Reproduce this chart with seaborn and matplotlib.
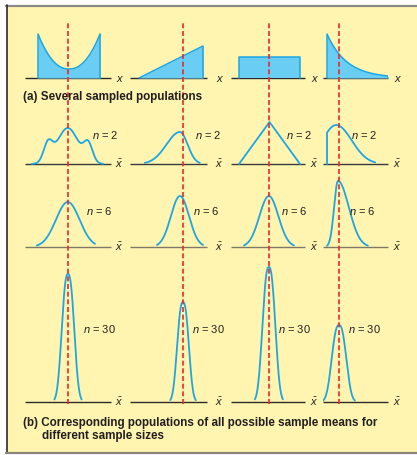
import numpy as np
import matplotlib
matplotlib.use("Agg")
import matplotlib.pyplot as plt
from matplotlib.patches import Rectangle
from matplotlib.lines import Line2D
import seaborn as sns

sns.set_theme(style="white")
plt.rcParams["font.family"] = ["Liberation Sans", "DejaVu Sans"]
plt.rcParams["mathtext.fontset"] = "custom"
plt.rcParams["mathtext.it"] = "Liberation Sans:italic"
plt.rcParams["mathtext.rm"] = "Liberation Sans"

# ---- data -------------------------------------------------------------
# Each population lives on the support [0, 1]; the dashed line marks its mean.
pop_means = [0.484, 0.6875, 0.49, 0.197]

# (a) sampled populations
u_shape_edge, u_shape_floor, u_shape_power = 44, 9, 2.2
rising_top = 32
uniform_height = 21
exp_start, exp_scale = 44, 0.325

# (b) sampling distributions of the mean, described as bumps:
# (centre, height, left width, right width, power)
n_labels = ["n = 2", "n = 6", "n = 30"]
n2_bumps = [
    [(0.48, 36, 0.24, 0.24, 2), (0.16, 18, 0.10, 0.10, 2), (0.81, 18, 0.10, 0.10, 2)],
    [(0.64, 32, 0.30, 0.17, 2)],
    None,
    [(0.15, 39, 0.32, 0.36, 2)],
]
n2_ranges = [(-0.10, 1.05), (0.09, 0.95), (0.0, 1.0), (0.0, 0.79)]
n2_triangle_x = [0.0, 0.5, 1.0]
n2_triangle_h = [0, 42, 0]

n6_bumps = [
    [(0.48, 45, 0.27, 0.27, 2)],
    [(0.64, 51, 0.20, 0.20, 2)],
    [(0.49, 51, 0.22, 0.22, 2)],
    [(0.18, 66, 0.09, 0.25, 2)],
]
n6_ranges = [(-0.02, 0.92), (0.28, 1.0), (0.08, 0.90), (0.0, 0.67)]

# n = 30: near-normal peaks centred on the population mean
n30_heights = [128, 100, 135, 77]
n30_widths = [0.127, 0.115, 0.133, 0.15]
n30_half_spans = [0.22, 0.20, 0.23, 0.26]
n30_power = 2.5

# ---- layout (figure pixels, measured from the top-left) ----------------
W, H = 417, 456
col_left = [25, 130, 231, 323]
col_right = [111, 207, 305, 388]
support_start = [38, 139, 239, 327]
support_width = [62, 64, 61, 61]
axes_top, axes_bottom = 24, 405
row_base_px = [79, 165, 248, 403]
baselines = [axes_bottom - p for p in row_base_px]
axis_colors = ["#2b2b2b", "#3a3a3a", "#7d7a6a", "#2b2b2b"]
axis_label_x = [119, 219, 314, 397]

label_pos = [
    [(105, 135), (208, 135), (299, 135), (364, 135)],
    [(99, 211), (206, 211), (294, 211), (362, 211)],
    [(99, 329), (208, 329), (294, 329), (364, 329)],
]

LINE = "#1ea6e3"
FILL = "#69cdf4"
RED = "#e82a2e"
TEXT = "#231f20"
BG = "#fff5b0"


def fx(px):
    return px / W


def fy(py):
    return 1 - py / H


def bump_curve(bumps, lo, hi):
    u = np.linspace(lo, hi, 300)
    y = np.zeros_like(u)
    for c, h, aL, aR, p in bumps:
        a = np.where(u < c, aL, aR)
        y += h * np.exp(-np.abs((u - c) / a) ** p)
    return u, y


fig = plt.figure(figsize=(W / 100, H / 100), dpi=100)
fig.patch.set_facecolor("white")

# yellow panel and its border
fig.add_artist(Rectangle((fx(7), fy(453)), fx(W) - fx(7), fy(7) - fy(453),
                         transform=fig.transFigure, facecolor=BG, edgecolor="none", zorder=0))
fig.add_artist(Line2D([fx(6), fx(W)], [fy(6.5), fy(6.5)], transform=fig.transFigure,
                      color="#8a8a8a", lw=1.6))
fig.add_artist(Line2D([fx(6.5), fx(6.5)], [fy(6), fy(454)], transform=fig.transFigure,
                      color="#2a2a2a", lw=1.2))
fig.add_artist(Line2D([fx(6), fx(W)], [fy(453.5), fy(453.5)], transform=fig.transFigure,
                      color="#8a877a", lw=1.6))

for c in range(4):
    L, R = col_left[c], col_right[c]
    s0, w = support_start[c], support_width[c]
    ax = fig.add_axes([fx(L), fy(axes_bottom), fx(R) - fx(L), fy(axes_top) - fy(axes_bottom)])
    ax.set_xlim((L - s0) / w, (R - s0) / w)
    ax.set_ylim(0, axes_bottom - axes_top)
    ax.axis("off")
    ax.patch.set_alpha(0)
    xlo, xhi = ax.get_xlim()

    # baselines
    for r, b in enumerate(baselines):
        ax.plot([xlo, xhi], [b, b], color=axis_colors[r], lw=1.0, solid_capstyle="butt",
                clip_on=False, zorder=2)

    # (a) population shapes
    b = baselines[0]
    if c == 0:
        u = np.linspace(0, 1, 200)
        h = u_shape_floor + (u_shape_edge - u_shape_floor) * np.abs(2 * u - 1) ** u_shape_power
    elif c == 1:
        u = np.array([0.0, 1.0])
        h = np.array([0.0, rising_top])
    elif c == 2:
        u = np.array([0.0, 1.0])
        h = np.array([uniform_height, uniform_height])
    else:
        u = np.linspace(0, 1, 200)
        h = exp_start * np.exp(-u / exp_scale)
    ax.fill_between(u, b, b + h, color=FILL, lw=0, zorder=3)
    ux = np.concatenate([[u[0]], u, [u[-1]]])
    hx = np.concatenate([[0], h, [0]])
    sns.lineplot(x=ux, y=b + hx, ax=ax, color=LINE, lw=1.1, sort=False,
                 estimator=None, zorder=4)

    # (b) sampling distributions
    b = baselines[1]
    if n2_bumps[c] is None:
        u, h = np.array(n2_triangle_x), np.array(n2_triangle_h, dtype=float)
    else:
        u, h = bump_curve(n2_bumps[c], *n2_ranges[c])
        if c == 3:
            u = np.concatenate([[u[0]], u])
            h = np.concatenate([[0], h])
    sns.lineplot(x=u, y=b + h, ax=ax, color=LINE, lw=1.3, sort=False, estimator=None, zorder=4)

    b = baselines[2]
    u, h = bump_curve(n6_bumps[c], *n6_ranges[c])
    sns.lineplot(x=u, y=b + h, ax=ax, color=LINE, lw=1.3, sort=False, estimator=None, zorder=4)

    b = baselines[3]
    m, s = pop_means[c], n30_half_spans[c]
    u, h = bump_curve([(m, n30_heights[c], n30_widths[c], n30_widths[c], n30_power)],
                      m - s, m + s)
    sns.lineplot(x=u, y=b + h, ax=ax, color=LINE, lw=1.3, sort=False, estimator=None, zorder=4)

    # dashed line at the population mean
    ax.axvline(pop_means[c], color=RED, lw=1.2, dashes=(3.0, 1.6), zorder=6)
    if ax.get_legend() is not None:
        ax.get_legend().remove()

# axis letters
for c in range(4):
    fig.text(fx(axis_label_x[c]), fy(row_base_px[0]), "x", style="italic", fontsize=8,
             color=TEXT, ha="center", va="center")
    for r in range(1, 4):
        fig.text(fx(axis_label_x[c]), fy(row_base_px[r] - 1), r"$\bar{x}$", fontsize=8,
                 color=TEXT, ha="center", va="center")

# sample size labels
for r, lab in enumerate(n_labels):
    k = lab.split("= ")[1]
    for c in range(4):
        x, y = label_pos[r][c]
        fig.text(fx(x), fy(y), r"$n$ = " + k, fontsize=8, color=TEXT, ha="center", va="center")

fig.text(fx(23), fy(97), "(a) Several sampled populations", fontsize=8.4, weight="bold",
         color=TEXT, ha="left", va="center")
fig.text(fx(23), fy(423), "(b) Corresponding populations of all possible sample means for",
         fontsize=8.4, weight="bold", color=TEXT, ha="left", va="center")
fig.text(fx(42), fy(436), "different sample sizes", fontsize=8.4, weight="bold",
         color=TEXT, ha="left", va="center")

fig.savefig("out.png", dpi=100, facecolor=fig.get_facecolor())
